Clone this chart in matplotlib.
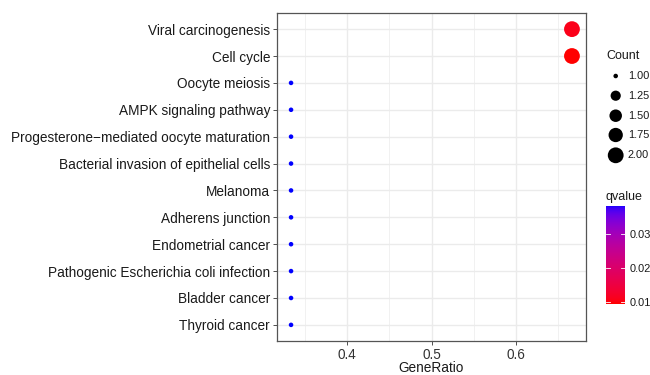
import numpy as np
import matplotlib
matplotlib.use("Agg")
import matplotlib.pyplot as plt
from matplotlib.colors import ListedColormap, Normalize
from matplotlib.ticker import MultipleLocator

plt.rcParams['font.family'] = ['Liberation Sans', 'DejaVu Sans']

# ---- data ----
terms = ["Viral carcinogenesis", "Cell cycle", "Oocyte meiosis", "AMPK signaling pathway",
         "Progesterone\u2212mediated oocyte maturation", "Bacterial invasion of epithelial cells",
         "Melanoma", "Adherens junction", "Endometrial cancer",
         "Pathogenic Escherichia coli infection", "Bladder cancer", "Thyroid cancer"]
gene_ratio = [2/3, 2/3, 1/3, 1/3, 1/3, 1/3, 1/3, 1/3, 1/3, 1/3, 1/3, 1/3]
count = [2, 2, 1, 1, 1, 1, 1, 1, 1, 1, 1, 1]
qvalue = [0.0107, 0.0093, 0.0385, 0.0385, 0.0385, 0.0385, 0.0385, 0.0385, 0.0385, 0.0385, 0.0385, 0.0385]
size_breaks = [1.00, 1.25, 1.50, 1.75, 2.00]
q_breaks = [0.01, 0.02, 0.03]

# ---- Lab gradient red -> blue (ggplot style) ----
M = np.array([[0.4124, 0.3576, 0.1805], [0.2126, 0.7152, 0.0722], [0.0193, 0.1192, 0.9505]])
WP = np.array([0.95047, 1.0, 1.08883])

def srgb_to_lab(rgb):
    rgb = np.asarray(rgb, float)
    lin = np.where(rgb <= 0.04045, rgb / 12.92, ((rgb + 0.055) / 1.055) ** 2.4)
    t = (M @ lin) / WP
    f = np.where(t > (6/29) ** 3, np.cbrt(t), t / (3 * (6/29) ** 2) + 4/29)
    return np.array([116 * f[1] - 16, 500 * (f[0] - f[1]), 200 * (f[1] - f[2])])

def lab_to_srgb(lab):
    L, a, b = lab
    fy = (L + 16) / 116
    fx = fy + a / 500
    fz = fy - b / 200
    def finv(f):
        return np.where(f > 6/29, f ** 3, 3 * (6/29) ** 2 * (f - 4/29))
    xyz = np.array([finv(fx), finv(fy), finv(fz)]) * WP
    lin = np.clip(np.linalg.inv(M) @ xyz, 0, 1)
    rgb = np.where(lin <= 0.0031308, 12.92 * lin, 1.055 * lin ** (1/2.4) - 0.055)
    return np.clip(rgb, 0, 1)

lab_lo = srgb_to_lab([1, 0, 0])
lab_hi = srgb_to_lab([0, 0, 1])
cols = [lab_to_srgb(lab_lo + (lab_hi - lab_lo) * t) for t in np.linspace(0, 1, 256)]
cmap = ListedColormap(cols)
qmin, qmax = min(qvalue), max(qvalue)
norm = Normalize(qmin, qmax)

def size_to_diam_px(c):
    s = 1 + 5 * np.sqrt((np.asarray(c, float) - 1) / 1.0)
    return 2.25 * s + 2.3

dpi = 100
fig = plt.figure(figsize=(6.5, 3.75), dpi=dpi)
ax = fig.add_axes([277/650, 1 - 341/375, 309/650, 328/375])

ypos = np.arange(len(terms))[::-1]
d_pt = size_to_diam_px(count) * 72 / dpi
ax.scatter(gene_ratio, ypos, s=d_pt ** 2, c=qvalue, cmap=cmap, norm=norm,
           linewidths=0, zorder=3)

span = max(gene_ratio) - min(gene_ratio)
ax.set_xlim(min(gene_ratio) - 0.05 * span, max(gene_ratio) + 0.05 * span)
ax.set_ylim(-0.6, len(terms) - 1 + 0.6)
ax.set_yticks(ypos)
ax.set_yticklabels(terms, fontsize=9.85, color='#1a1a1a')
ax.xaxis.set_major_locator(MultipleLocator(0.1))
ax.xaxis.set_minor_locator(MultipleLocator(0.05))
ax.tick_params(axis='x', which='major', labelsize=9.85, labelcolor='#333333', length=3,
               color='#333333', width=0.6, pad=2)
ax.tick_params(axis='x', which='minor', length=0)
ax.tick_params(axis='y', length=3, color='#333333', width=0.6, pad=2)
ax.grid(which='major', color='#EBEBEB', linewidth=1.0, zorder=0)
ax.grid(which='minor', axis='x', color='#EBEBEB', linewidth=0.5, zorder=0)
ax.set_axisbelow(True)
for sp in ax.spines.values():
    sp.set_color('#555555')
    sp.set_linewidth(0.9)
fig.text((277 + 586) / 2 / 650, 1 - 368/375, "GeneRatio", fontsize=9.85, color='#1a1a1a',
         ha='center', va='center')

# ---- size legend ----
fig.text(606/650, 1 - 56/375, "Count", fontsize=9.0, va='center', ha='left', color='#1a1a1a')
leg_y = [76, 95.7, 115.7, 135, 155.3]
for b, yy in zip(size_breaks, leg_y):
    fig.text(628/650, 1 - yy/375, f"{b:.2f}", fontsize=7.9, va='center', ha='left', color='#1a1a1a')
lax = fig.add_axes([0, 0, 1, 1], facecolor='none')
lax.set_xlim(0, 650)
lax.set_ylim(375, 0)
lax.axis('off')
lax.scatter([615.7] * len(size_breaks), leg_y,
            s=(size_to_diam_px(size_breaks) * 72 / dpi) ** 2, c='black', linewidths=0)

# ---- colorbar ----
fig.text(606/650, 1 - 197/375, "qvalue", fontsize=9.0, va='center', ha='left', color='#1a1a1a')
cax = fig.add_axes([606/650, 1 - 304/375, 19/650, 98.3/375])
grad = np.linspace(qmin, qmax, 256).reshape(-1, 1)
cax.imshow(grad, aspect='auto', cmap=cmap, norm=norm, origin='lower',
           extent=[0, 1, qmin, qmax])
for v in q_breaks:
    cax.plot([0, 0.2], [v, v], color='white', lw=0.6)
    cax.plot([0.8, 1], [v, v], color='white', lw=0.6)
cax.set_xlim(0, 1)
cax.set_ylim(qmin, qmax)
cax.set_xticks([])
cax.yaxis.tick_right()
cax.set_yticks(q_breaks)
cax.set_yticklabels([f"{v:.2f}" for v in q_breaks], fontsize=7.9, color='#1a1a1a')
cax.tick_params(axis='y', length=0, pad=3)
for sp in cax.spines.values():
    sp.set_visible(False)

fig.savefig("out.png", dpi=dpi)
